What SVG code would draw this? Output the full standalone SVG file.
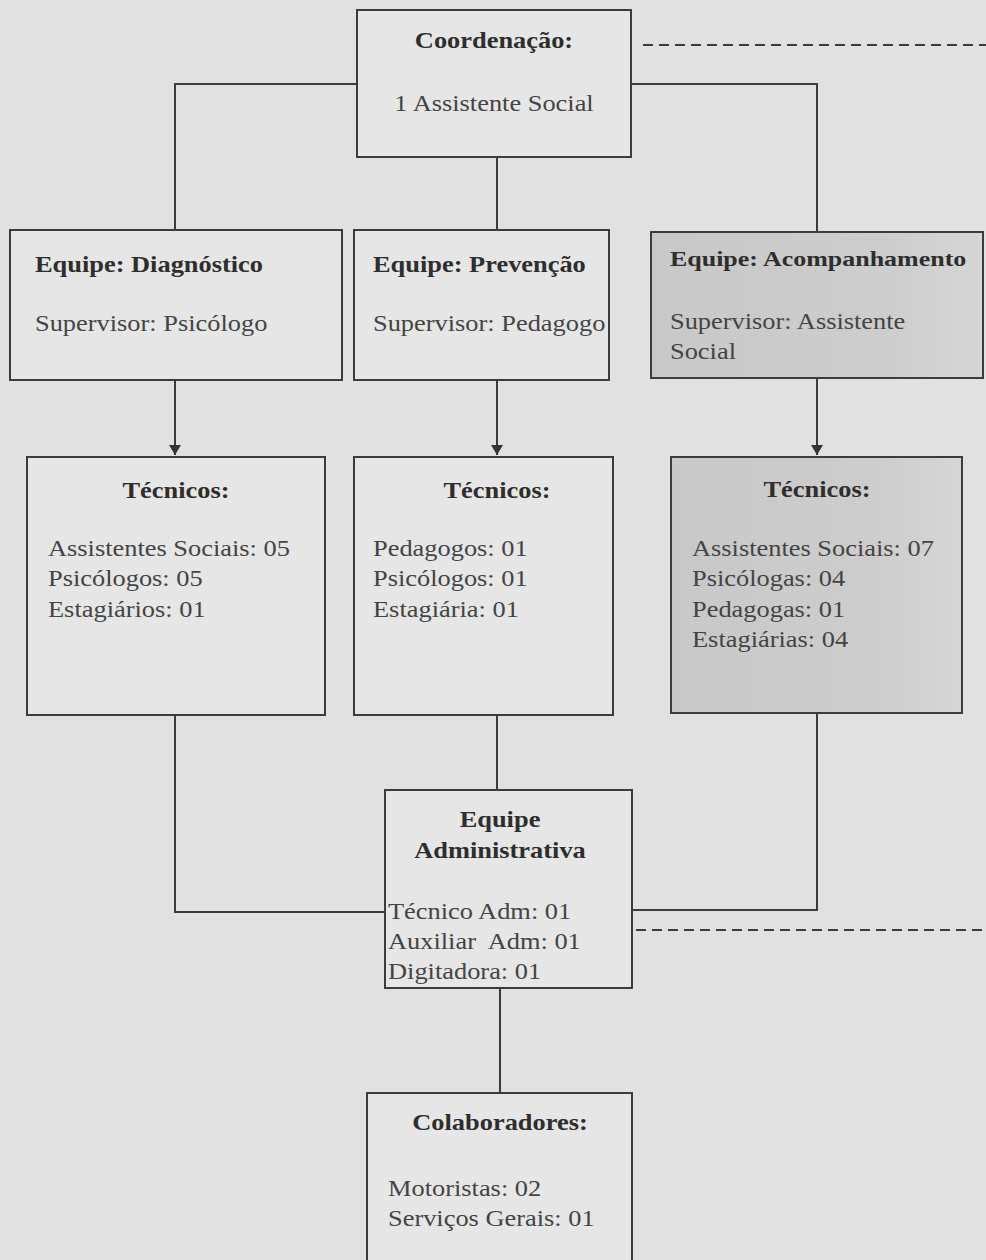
<svg xmlns="http://www.w3.org/2000/svg" width="986" height="1260" viewBox="0 0 986 1260">
<defs>
<linearGradient id="gray" x1="0" y1="0" x2="1" y2="0">
<stop offset="0" stop-color="#c8c8c8"/>
<stop offset="0.7" stop-color="#cdcdcd"/>
<stop offset="1" stop-color="#d6d6d6"/>
</linearGradient>
<marker id="arr" viewBox="0 0 10 12" refX="10" refY="6" markerWidth="10" markerHeight="12" markerUnits="userSpaceOnUse" orient="auto">
<path d="M0,0 L10,6 L0,12 Z" fill="#333"/>
</marker>
<style>
.box{fill:#e6e6e6;stroke:#3c3c3c;stroke-width:2}
.gbox{fill:url(#gray);stroke:#3c3c3c;stroke-width:2}
.ln{fill:none;stroke:#3c3c3c;stroke-width:2}
.dash{fill:none;stroke:#3c3c3c;stroke-width:2;stroke-dasharray:10 6}
text{font-family:"Liberation Serif","Times New Roman",serif;font-size:24px;fill:#444}
.b{font-weight:bold;fill:#2e2e2e}
.c{text-anchor:middle}
</style>
</defs>
<rect width="986" height="1260" fill="#e1e1e1"/>
<g id="connectors">
<path class="ln" d="M357,84 H175 V230"/>
<path class="ln" d="M631,84 H817 V232"/>
<path class="ln" d="M497,157 V230"/>
<path class="ln" d="M175,380 V455" marker-end="url(#arr)"/>
<path class="ln" d="M497,380 V455" marker-end="url(#arr)"/>
<path class="ln" d="M817,378 V455" marker-end="url(#arr)"/>
<path class="ln" d="M175,715 V912 H385"/>
<path class="ln" d="M497,715 V790"/>
<path class="ln" d="M817,713 V910 H632"/>
<path class="ln" d="M500,988 V1093"/>
<path class="dash" d="M643,45 H986"/>
<path class="dash" d="M636,930 H986"/>
</g>
<g id="coord">
<rect class="box" x="357" y="10" width="274" height="147"/>
<text class="b c" transform="translate(494 48) scale(1.1 1)">Coordenação:</text>
<text class="c" transform="translate(494 111) scale(1.1 1)">1 Assistente Social</text>
</g>
<g id="diag">
<rect class="box" x="10" y="230" width="332" height="150"/>
<text class="b" transform="translate(35 272) scale(1.1 1)">Equipe: Diagnóstico</text>
<text transform="translate(35 331) scale(1.1 1)">Supervisor: Psicólogo</text>
</g>
<g id="prev">
<rect class="box" x="354" y="230" width="255" height="150"/>
<text class="b" transform="translate(373 272) scale(1.1 1)">Equipe: Prevenção</text>
<text transform="translate(373 331) scale(1.1 1)">Supervisor: Pedagogo</text>
</g>
<g id="acomp">
<rect class="gbox" x="651" y="232" width="332" height="146"/>
<text class="b" transform="translate(670 266) scale(1.18 1)" style="font-size:22px">Equipe: Acompanhamento</text>
<text transform="translate(670 329) scale(1.1 1)">Supervisor: Assistente</text>
<text transform="translate(670 359) scale(1.1 1)">Social</text>
</g>
<g id="tec-diag">
<rect class="box" x="27" y="457" width="298" height="258"/>
<text class="b c" transform="translate(176 498) scale(1.1 1)">Técnicos:</text>
<text transform="translate(48 556) scale(1.1 1)">Assistentes Sociais: 05</text>
<text transform="translate(48 586) scale(1.1 1)">Psicólogos: 05</text>
<text transform="translate(48 617) scale(1.1 1)">Estagiários: 01</text>
</g>
<g id="tec-prev">
<rect class="box" x="354" y="457" width="259" height="258"/>
<text class="b c" transform="translate(497 498) scale(1.1 1)">Técnicos:</text>
<text transform="translate(373 556) scale(1.1 1)">Pedagogos: 01</text>
<text transform="translate(373 586) scale(1.1 1)">Psicólogos: 01</text>
<text transform="translate(373 617) scale(1.1 1)">Estagiária: 01</text>
</g>
<g id="tec-acomp">
<rect class="gbox" x="671" y="457" width="291" height="256"/>
<text class="b c" transform="translate(817 497) scale(1.1 1)">Técnicos:</text>
<text transform="translate(692 556) scale(1.1 1)">Assistentes Sociais: 07</text>
<text transform="translate(692 586) scale(1.1 1)">Psicólogas: 04</text>
<text transform="translate(692 617) scale(1.1 1)">Pedagogas: 01</text>
<text transform="translate(692 647) scale(1.1 1)">Estagiárias: 04</text>
</g>
<g id="admin">
<rect class="box" x="385" y="790" width="247" height="198"/>
<text class="b c" transform="translate(500 827) scale(1.1 1)">Equipe</text>
<text class="b c" transform="translate(500 858) scale(1.1 1)">Administrativa</text>
<text transform="translate(388 919) scale(1.1 1)">Técnico Adm: 01</text>
<text transform="translate(388 949) scale(1.1 1)" xml:space="preserve">Auxiliar  Adm: 01</text>
<text transform="translate(388 979) scale(1.1 1)">Digitadora: 01</text>
</g>
<g id="colab">
<rect class="box" x="367" y="1093" width="265" height="175"/>
<text class="b c" transform="translate(500 1130) scale(1.1 1)">Colaboradores:</text>
<text transform="translate(388 1196) scale(1.1 1)">Motoristas: 02</text>
<text transform="translate(388 1226) scale(1.1 1)">Serviços Gerais: 01</text>
</g>
</svg>
